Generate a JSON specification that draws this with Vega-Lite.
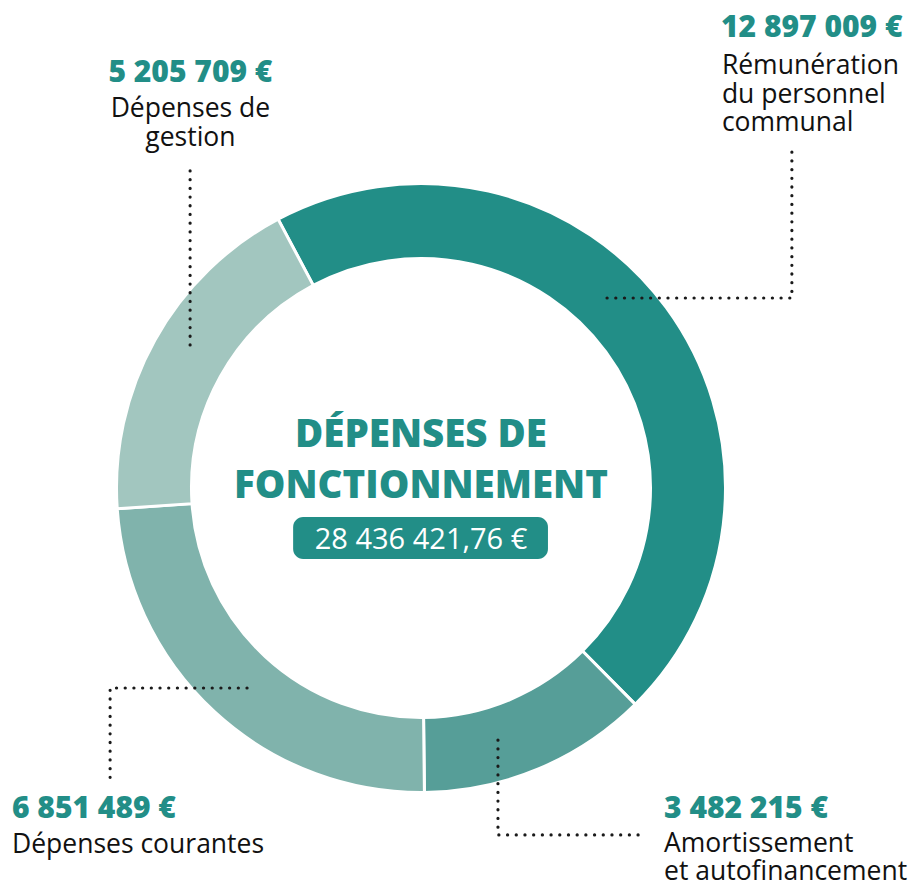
{
  "$schema": "https://vega.github.io/schema/vega-lite/v6.json",
  "autosize": {"type": "none"},
  "width": 842,
  "height": 798,
  "padding": {"left": 0, "top": 89, "right": 72, "bottom": 0},
  "background": "white",
  "config": {"view": {"stroke": null}, "font": "Open Sans"},
  "datasets": {
    "postes": [
      {"poste": "Rémunération du personnel communal", "montant": 12897009, "ordre": 1},
      {"poste": "Amortissement et autofinancement", "montant": 3482215, "ordre": 2},
      {"poste": "Dépenses courantes", "montant": 6851489, "ordre": 3},
      {"poste": "Dépenses de gestion", "montant": 5205709, "ordre": 4}
    ],
    "reperes": [
      {"poste": "Rémunération", "seq": 1, "x": 0.614, "y": 0.627},
      {"poste": "Rémunération", "seq": 2, "x": 1.224, "y": 0.627},
      {"poste": "Rémunération", "seq": 3, "x": 1.224, "y": 1.116},
      {"poste": "Gestion", "seq": 1, "x": -0.762, "y": 0.472},
      {"poste": "Gestion", "seq": 2, "x": -0.762, "y": 1.066},
      {"poste": "Courantes", "seq": 1, "x": -0.574, "y": -0.660},
      {"poste": "Courantes", "seq": 2, "x": -1.026, "y": -0.660},
      {"poste": "Courantes", "seq": 3, "x": -1.026, "y": -0.964},
      {"poste": "Amortissement", "seq": 1, "x": 0.254, "y": -0.832},
      {"poste": "Amortissement", "seq": 2, "x": 0.254, "y": -1.145},
      {"poste": "Amortissement", "seq": 3, "x": 0.739, "y": -1.145}
    ],
    "etiquettes": [
      {"montant": "12 897 009 €", "libelle": ["Rémunération", "du personnel", "communal"], "ax": 0.990, "ay": 1.488, "lx": 0.993, "ly": 1.366, "centre": false},
      {"montant": "5 205 709 €", "libelle": ["Dépenses de", "gestion"], "ax": -0.761, "ay": 1.340, "lx": -0.761, "ly": 1.224, "centre": true},
      {"montant": "6 851 489 €", "libelle": ["Dépenses courantes"], "ax": -1.350, "ay": -1.089, "lx": -1.350, "ly": -1.205, "centre": false},
      {"montant": "3 482 215 €", "libelle": ["Amortissement", "et autofinancement"], "ax": 0.802, "ay": -1.089, "lx": 0.802, "ly": -1.200, "centre": false}
    ],
    "titre": [
      {"texte": "DÉPENSES DE", "x": 0, "y": 0.135},
      {"texte": "FONCTIONNEMENT", "x": 0, "y": -0.033}
    ],
    "total": [
      {"texte": "28 436 421,76 €", "x": 0, "y": -0.201, "x1": -0.422, "x2": 0.419, "y1": -0.096, "y2": -0.234}
    ]
  },
  "layer": [
    {
      "data": {"name": "postes"},
      "mark": {"type": "arc", "innerRadius": 229.5, "outerRadius": 304.5, "stroke": "white", "strokeWidth": 3},
      "encoding": {
        "theta": {"field": "montant", "type": "quantitative", "stack": true, "scale": {"range": [-0.4887, 5.7945]}},
        "order": {"field": "ordre", "type": "quantitative"},
        "color": {
          "field": "poste", "type": "nominal", "legend": null,
          "scale": {
            "domain": ["Rémunération du personnel communal", "Amortissement et autofinancement", "Dépenses courantes", "Dépenses de gestion"],
            "range": ["#228E87", "#569E98", "#80B3AC", "#A2C6BF"]
          }
        }
      }
    },
    {
      "data": {"name": "reperes"},
      "mark": {"type": "line", "stroke": "#1a1a1a", "strokeWidth": 3.2, "strokeCap": "round", "strokeDash": [0.1, 8.6]},
      "encoding": {
        "x": {"field": "x", "type": "quantitative", "axis": null, "scale": {"domain": [-1.3894, 1.3894], "nice": false, "zero": false}},
        "y": {"field": "y", "type": "quantitative", "axis": null, "scale": {"domain": [-1.3168, 1.3168], "nice": false, "zero": false}},
        "detail": {"field": "poste"},
        "order": {"field": "seq", "type": "quantitative"}
      }
    },
    {
      "data": {"name": "etiquettes"},
      "transform": [{"filter": "!datum.centre"}],
      "mark": {"type": "text", "align": "left", "baseline": "alphabetic", "font": "Open Sans", "fontWeight": 800, "fontSize": 30, "color": "#228E87"},
      "encoding": {
        "x": {"field": "ax", "type": "quantitative"},
        "y": {"field": "ay", "type": "quantitative"},
        "text": {"field": "montant"}
      }
    },
    {
      "data": {"name": "etiquettes"},
      "transform": [{"filter": "datum.centre"}],
      "mark": {"type": "text", "align": "center", "baseline": "alphabetic", "font": "Open Sans", "fontWeight": 800, "fontSize": 30, "color": "#228E87"},
      "encoding": {
        "x": {"field": "ax", "type": "quantitative"},
        "y": {"field": "ay", "type": "quantitative"},
        "text": {"field": "montant"}
      }
    },
    {
      "data": {"name": "etiquettes"},
      "transform": [{"filter": "!datum.centre"}],
      "mark": {"type": "text", "align": "left", "baseline": "alphabetic", "font": "Open Sans", "fontSize": 26.5, "lineHeight": 28.5, "color": "#111111"},
      "encoding": {
        "x": {"field": "lx", "type": "quantitative"},
        "y": {"field": "ly", "type": "quantitative"},
        "text": {"field": "libelle"}
      }
    },
    {
      "data": {"name": "etiquettes"},
      "transform": [{"filter": "datum.centre"}],
      "mark": {"type": "text", "align": "center", "baseline": "alphabetic", "font": "Open Sans", "fontSize": 26.5, "lineHeight": 28.5, "color": "#111111"},
      "encoding": {
        "x": {"field": "lx", "type": "quantitative"},
        "y": {"field": "ly", "type": "quantitative"},
        "text": {"field": "libelle"}
      }
    },
    {
      "data": {"name": "titre"},
      "mark": {"type": "text", "align": "center", "baseline": "alphabetic", "font": "Open Sans", "fontWeight": 800, "fontSize": 38.5, "color": "#228E87"},
      "encoding": {
        "x": {"field": "x", "type": "quantitative"},
        "y": {"field": "y", "type": "quantitative"},
        "text": {"field": "texte"}
      }
    },
    {
      "data": {"name": "total"},
      "mark": {"type": "rect", "color": "#228E87", "cornerRadius": 10},
      "encoding": {
        "x": {"field": "x1", "type": "quantitative"},
        "x2": {"field": "x2"},
        "y": {"field": "y1", "type": "quantitative"},
        "y2": {"field": "y2"}
      }
    },
    {
      "data": {"name": "total"},
      "mark": {"type": "text", "align": "center", "baseline": "alphabetic", "font": "Open Sans", "fontSize": 29, "color": "white"},
      "encoding": {
        "x": {"field": "x", "type": "quantitative"},
        "y": {"field": "y", "type": "quantitative"},
        "text": {"field": "texte"}
      }
    }
  ]
}
